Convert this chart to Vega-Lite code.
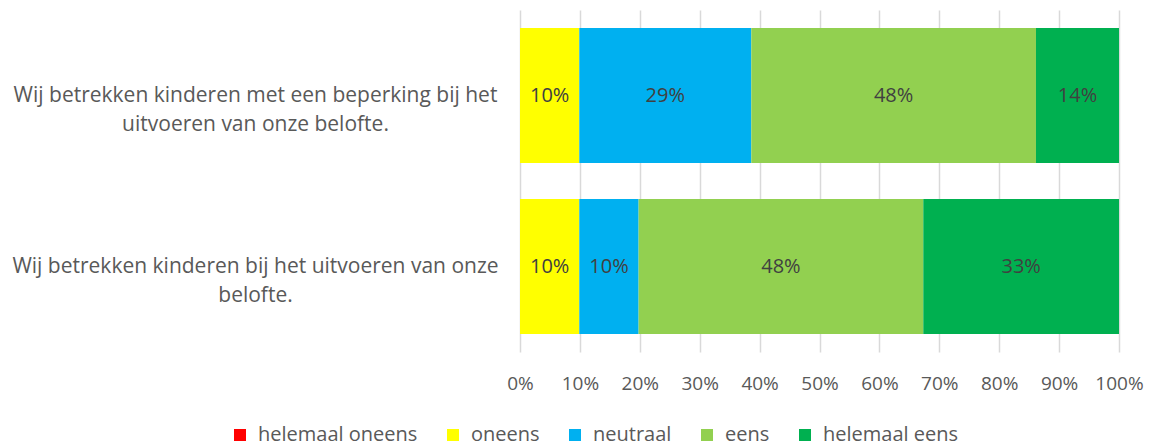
{
  "$schema": "https://vega.github.io/schema/vega-lite/v6.json",
  "autosize": {"type": "none"},
  "padding": {"left": 520, "top": 10, "right": 34, "bottom": 96},
  "width": 599,
  "height": 342,
  "background": "white",
  "config": {
    "view": {"stroke": null},
    "font": "Open Sans",
    "text": {"font": "Open Sans"}
  },
  "data": {
    "values": [
      {"vraag": "Wij betrekken kinderen met een beperking bij het uitvoeren van onze belofte.", "antwoord": "helemaal oneens", "k": 0, "pct": 0},
      {"vraag": "Wij betrekken kinderen met een beperking bij het uitvoeren van onze belofte.", "antwoord": "oneens", "k": 1, "pct": 10},
      {"vraag": "Wij betrekken kinderen met een beperking bij het uitvoeren van onze belofte.", "antwoord": "neutraal", "k": 2, "pct": 29},
      {"vraag": "Wij betrekken kinderen met een beperking bij het uitvoeren van onze belofte.", "antwoord": "eens", "k": 3, "pct": 48},
      {"vraag": "Wij betrekken kinderen met een beperking bij het uitvoeren van onze belofte.", "antwoord": "helemaal eens", "k": 4, "pct": 14},
      {"vraag": "Wij betrekken kinderen bij het uitvoeren van onze belofte.", "antwoord": "helemaal oneens", "k": 0, "pct": 0},
      {"vraag": "Wij betrekken kinderen bij het uitvoeren van onze belofte.", "antwoord": "oneens", "k": 1, "pct": 10},
      {"vraag": "Wij betrekken kinderen bij het uitvoeren van onze belofte.", "antwoord": "neutraal", "k": 2, "pct": 10},
      {"vraag": "Wij betrekken kinderen bij het uitvoeren van onze belofte.", "antwoord": "eens", "k": 3, "pct": 48},
      {"vraag": "Wij betrekken kinderen bij het uitvoeren van onze belofte.", "antwoord": "helemaal eens", "k": 4, "pct": 33}
    ]
  },
  "transform": [
    {"joinaggregate": [{"op": "sum", "field": "pct", "as": "tot"}], "groupby": ["vraag"]},
    {"window": [{"op": "sum", "field": "pct", "as": "cum"}], "sort": [{"field": "k"}], "groupby": ["vraag"], "frame": [null, 0]},
    {"calculate": "(datum.cum - datum.pct / 2) / datum.tot", "as": "mid"},
    {"calculate": "datum.pct + '%'", "as": "lbl"}
  ],
  "encoding": {
    "y": {
      "field": "vraag",
      "type": "nominal",
      "sort": null,
      "title": null,
      "scale": {"paddingInner": 0.21, "paddingOuter": 0.105},
      "axis": {
        "ticks": false,
        "domain": false,
        "labelAlign": "center",
        "labelBaseline": "middle",
        "labelPadding": 265,
        "labelFontSize": 21,
        "labelColor": "#595959",
        "labelLineHeight": 29,
        "labelLimit": 600,
        "labelExpr": "datum.label == 'Wij betrekken kinderen met een beperking bij het uitvoeren van onze belofte.' ? ['Wij betrekken kinderen met een beperking bij het', 'uitvoeren van onze belofte.'] : ['Wij betrekken kinderen bij het uitvoeren van onze', 'belofte.']"
      }
    }
  },
  "layer": [
    {
      "mark": {"type": "bar"},
      "encoding": {
        "x": {
          "field": "pct",
          "type": "quantitative",
          "stack": "normalize",
          "title": null,
          "scale": {"domain": [0, 1]},
          "axis": {
            "format": ".0%",
            "values": [0, 0.1, 0.2, 0.3, 0.4, 0.5, 0.6, 0.7, 0.8, 0.9, 1],
            "grid": true,
            "gridColor": "#D9D9D9",
            "gridWidth": 1.5,
            "ticks": false,
            "tickSize": 0,
            "domain": false,
            "labelPadding": 22,
            "labelFontSize": 19,
            "labelColor": "#595959",
            "labelFlush": false
          }
        },
        "color": {
          "field": "antwoord",
          "type": "nominal",
          "scale": {
            "domain": ["helemaal oneens", "oneens", "neutraal", "eens", "helemaal eens"],
            "range": ["#FF0000", "#FFFF00", "#00B0F0", "#92D050", "#00B050"]
          },
          "legend": {
            "title": null,
            "orient": "none",
            "direction": "horizontal",
            "legendX": -290,
            "legendY": 415,
            "symbolType": "square",
            "symbolSize": 144,
            "symbolStrokeWidth": 0,
            "labelFontSize": 20,
            "labelColor": "#595959",
            "labelOffset": 8,
            "columnPadding": 25
          }
        },
        "order": {"field": "k", "type": "quantitative"}
      }
    },
    {
      "transform": [{"filter": "datum.pct > 0"}],
      "mark": {"type": "text", "fontSize": 20, "color": "#404040", "baseline": "middle", "align": "center"},
      "encoding": {
        "x": {"field": "mid", "type": "quantitative"},
        "text": {"field": "lbl", "type": "nominal"}
      }
    }
  ]
}
